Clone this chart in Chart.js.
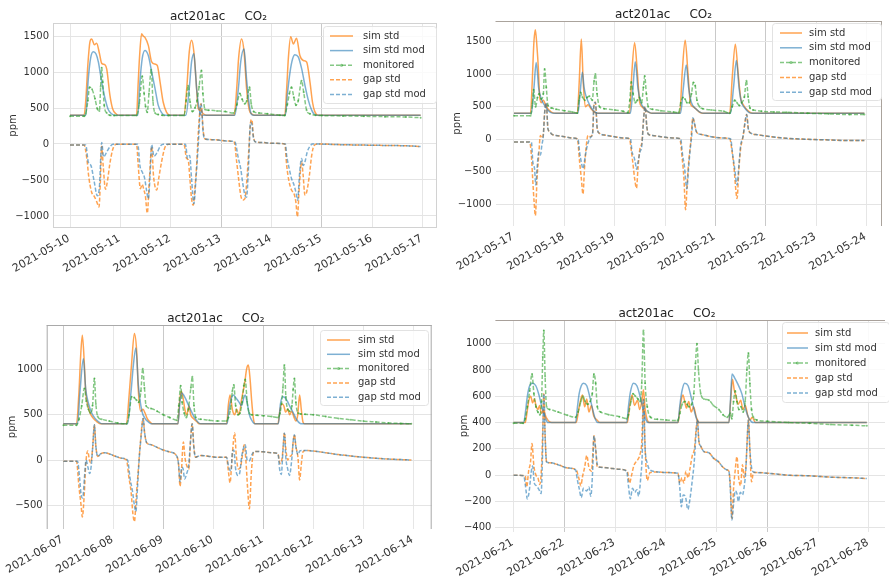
<!DOCTYPE html>
<html lang="en">
<head>
<meta charset="UTF-8" />
<title>act201ac CO2</title>
<script src="https://cdn.jsdelivr.net/npm/chart.js"></script>
<style>
    html, body { margin: 0; padding: 0; background: #fff; }
    body { width: 889px; height: 576px; position: relative; overflow: hidden; }
    .panel { position: absolute; }
    .panel canvas { display: block; }
</style>
</head>
<body>

<div class="panel" style="left:0;top:0"><canvas id="p1" width="445" height="280"></canvas></div>
<div class="panel" style="left:445px;top:0"><canvas id="p2" width="444" height="280"></canvas></div>
<div class="panel" style="left:0;top:280px"><canvas id="p3" width="445" height="296"></canvas></div>
<div class="panel" style="left:445px;top:280px"><canvas id="p4" width="444" height="296"></canvas></div>

<script>
// x = hours since 00:00 of the first date of each week, y = CO2 in ppm
const seriesNames = ['sim std', 'sim std mod', 'monitored', 'gap std', 'gap std mod'];

// --- week 2021-05-10 ---
const p1Dates = ['2021-05-10', '2021-05-11', '2021-05-12', '2021-05-13', '2021-05-14', '2021-05-15', '2021-05-16', '2021-05-17'];
const p1YTicks = [-1000, -500, 0, 500, 1000, 1500];
const p1SimStd = [[0,400],[6.7,400],[7.5,600],[8.5,1100],[9.5,1420],[10.3,1460],[11.6,1380],[12.7,1400],[14,1260],[15.1,1120],[16.7,1100],[17.5,1040],[19,680],[20.3,490],[21.9,420],[23,400],
    [31.7,400],[32.4,800],[33.1,1200],[34.1,1530],[34.9,1500],[35.7,1480],[37.3,1370],[38.9,1140],[40.5,1110],[41.6,1090],[42.9,860],[44.4,580],[46,440],[47.6,400],
    [54.3,400],[55.6,770],[56.8,1280],[57.9,1440],[59,1280],[60,900],[61.1,490],[62,470],[63.5,420],[65,400],
    [78.2,400],[79.4,770],[80.3,1190],[81.7,1460],[82.9,1280],[84.1,770],[85.4,470],[86.5,420],[88,400],
    [102.3,400],[103.2,770],[104,1190],[105.1,1490],[106.4,1390],[107.9,1470],[109.5,1230],[111.1,1160],[112.7,1140],[114.3,860],[115.5,580],[116.6,450],[118.2,400],[167,400]];
const p1SimMod = [[0,400],[7.5,400],[8.7,900],[9.8,1190],[11.1,1280],[12.4,1250],[13.5,1140],[15.1,860],[16.7,630],[18.2,480],[19.8,420],[21.4,400],
    [32.3,400],[33.3,860],[34.4,1190],[35.7,1300],[37.3,1230],[38.9,1000],[40.5,770],[42,540],[43.6,435],[45.2,400],
    [55.2,400],[56.8,770],[57.9,1140],[59,1255],[60.3,770],[61.6,470],[62.7,400],
    [78.5,400],[80.2,770],[81.3,1140],[82.9,1320],[84.1,900],[85.4,540],[86.5,410],[87.5,400],
    [102.6,400],[103.5,680],[104.8,1000],[106,1180],[107.1,1240],[108.7,1210],[110.3,1050],[111.9,815],[113.5,610],[115.1,470],[116.7,405],[118,400],[167,400]];
const p1Monitored = [[0,385],[6.7,385],[7.5,420],[8.5,600],[9.3,790],[10.5,760],[11.9,630],[13,490],[14,460],[14.6,800],[15.1,1060],[15.6,860],[16.3,540],[17.5,430],[19,400],[21,395],
    [31.7,395],[33,560],[34.4,940],[35.3,700],[36,520],[36.8,440],[37.6,700],[38.7,1030],[39.5,600],[40.5,430],[42,410],[44,400],[47,395],
    [54.3,395],[55.3,600],[56.3,810],[57.2,580],[58.3,450],[59.5,500],[60.5,600],[61.5,800],[62.6,1020],[63.3,700],[64.3,480],[66,470],[70,460],[74,450],[78,430],
    [79.5,550],[80.9,700],[82,620],[83.2,560],[84.2,600],[85.5,790],[86.3,560],[87.5,450],[90,430],[94,420],[100,400],
    [102.3,395],[103.5,550],[104.5,700],[105.5,790],[106.6,650],[107.6,540],[108.7,600],[110.3,880],[111.3,720],[112.7,470],[114.3,420],[117,400],[120,395],[130,390],[140,385],[150,380],[160,375],[167,365]];
const p1GapStd = [[0,-15],[6.7,-15],[8,-200],[9,-470],[10.3,-670],[11.6,-730],[12.7,-800],[13.8,-875],[14.5,-500],[15.1,-30],[15.8,-300],[16.9,-630],[17.8,-520],[19,-270],[20.3,-80],[22,-5],
    [31.7,-5],[32.5,-300],[33.5,-620],[34.4,-560],[35.2,-640],[35.9,-720],[36.8,-960],[37.8,-500],[38.9,-40],[39.8,-450],[41.3,-640],[42.3,-470],[43.6,-250],[45.2,-50],[47,-5],
    [54.3,-5],[55.5,-200],[56.3,-220],[57.1,-480],[57.9,-760],[58.7,-850],[59.5,-620],[60.3,-300],[61.2,200],[62.4,560],[63.5,170],[64.3,70],[68,60],[72,50],[76,40],[78.2,30],
    [79.4,-250],[80.3,-480],[81.3,-710],[82.2,-780],[83.3,-760],[84.4,-430],[85.2,-60],[86,300],[86.6,340],[87.3,120],[88.2,30],[92,20],[96,10],[102.3,0],
    [103.2,-300],[104.4,-530],[105.5,-640],[106.7,-690],[107.6,-810],[108.3,-1010],[109.2,-600],[110.3,-250],[111,-420],[111.9,-710],[112.7,-670],[114,-440],[115.1,-160],[116.3,-20],[118,0],[130,-10],[140,-15],[150,-20],[160,-25],[167,-35]];
const p1GapMod = [[0,-15],[7.5,-15],[8.7,-250],[10,-300],[11.5,-520],[13,-720],[14,-600],[15.1,20],[16,-180],[17.5,-110],[19,-40],[20.5,-5],
    [32.3,-5],[33.3,-300],[34.4,-390],[35.5,-470],[36.5,-650],[37.3,-760],[38.2,-400],[38.9,-10],[40,-170],[41.5,-120],[43,-30],[44.5,-5],
    [55,-5],[56,-200],[57,-160],[57.9,-480],[59,-830],[60,-480],[61,-50],[62.4,560],[63.5,140],[64.3,70],[68,60],[72,50],[76,40],[78.5,30],
    [80.2,-200],[81.3,-340],[82.2,-530],[83.3,-710],[84.1,-740],[84.9,-400],[86,300],[86.6,280],[87.3,100],[88.2,30],[92,20],[96,10],[102.6,0],
    [103.2,-160],[104.4,-340],[105.5,-480],[106.7,-570],[107.9,-710],[108.4,-780],[109.4,-390],[110.3,-200],[111.1,-300],[111.9,-250],[113,-110],[114.3,-30],[115.5,0],[130,-10],[140,-15],[150,-20],[160,-25],[167,-35]];

// --- week 2021-05-17 ---
const p2Dates = ['2021-05-17', '2021-05-18', '2021-05-19', '2021-05-20', '2021-05-21', '2021-05-22', '2021-05-23', '2021-05-24'];
const p2YTicks = [-1000, -500, 0, 500, 1000, 1500];
const p2SimStd = [[0,400],[7.9,400],[8.7,880],[9.5,1490],[10.2,1680],[11,1400],[11.6,1100],[12.2,680],[13,560],[14,600],[15.4,500],[17,440],[18.6,405],[20,400],
    [30.2,400],[31.1,880],[32.1,1540],[33,880],[34,500],[35.3,530],[36.9,460],[38.5,415],[40,400],
    [55.1,400],[56.2,1030],[57.5,1480],[58.8,1030],[59.9,570],[61,500],[62.3,460],[63.9,420],[65.5,400],
    [79,400],[80.2,1030],[81.6,1520],[82.9,1030],[84.1,550],[85.3,500],[86.9,460],[88.5,415],[90,400],
    [102.8,400],[104.1,980],[105.5,1460],[106.8,1030],[108.1,620],[109.3,530],[110.8,460],[112.4,415],[113.9,400],[167,400]];
const p2SimMod = [[0,400],[8.3,400],[9.5,780],[10.6,1180],[11.8,780],[13,620],[14.6,520],[16.2,445],[17.8,405],[19,400],
    [30.5,400],[31.5,700],[32.6,1030],[33.4,800],[34,700],[35.3,580],[36.9,480],[38.5,420],[40,400],
    [55.5,400],[56.7,780],[57.8,1190],[59.1,780],[60.4,570],[62.3,470],[64.7,410],[66,400],
    [79.4,400],[80.7,780],[82.1,1140],[83.3,780],[84.5,570],[86.9,460],[89.3,405],[90.5,400],
    [103.2,400],[104.6,780],[106,1210],[107.3,780],[108.4,570],[110,480],[111.9,415],[113.5,400],[167,400]];
const p2Monitored = [[0,360],[7.9,360],[8.8,550],[9.4,760],[10.3,500],[11.2,640],[12,700],[13,620],[14,700],[14.6,1080],[15.4,800],[16.2,520],[18,480],[20,460],[24,440],[28,420],[30.2,405],
    [31,600],[31.8,720],[32.6,650],[33.8,600],[34.8,640],[36,660],[37.3,600],[38.2,900],[38.8,1000],[39.6,700],[40.8,500],[43,470],[48,450],[52,430],[54.3,410],
    [55.2,600],[55.9,880],[56.8,700],[57.8,560],[58.8,600],[59.8,640],[60.8,560],[61.7,800],[62.3,970],[63.1,700],[64,500],[66,460],[70,440],[76,420],[78.5,410],
    [79.5,560],[80.5,640],[81.5,620],[82.5,560],[83.5,560],[84.6,700],[85.5,870],[86.4,820],[87.2,600],[88.5,500],[90,470],[94,450],[100,430],[102.8,400],
    [104,500],[105.2,600],[106.3,560],[107.4,520],[108.5,560],[109.8,650],[110.8,900],[111.6,650],[112.5,480],[114,450],[118,430],[124,420],[130,415],[140,400],[150,390],[160,380],[167,380]];
const p2GapStd = [[0,-40],[7.5,-40],[8.3,-250],[9,-650],[9.6,-960],[10.2,-1170],[11,-600],[11.8,-250],[12.6,60],[13.3,20],[14,80],[14.6,400],[15.4,560],[16.2,160],[17,120],[18,80],[20,60],[24,40],[28,20],[30.2,5],
    [31.3,-350],[32.1,-600],[32.9,-840],[33.6,-450],[34.5,-90],[35.3,60],[36.5,40],[37.5,100],[38.1,520],[38.8,570],[39.7,160],[40.8,90],[44,60],[48,40],[52,20],[55,10],
    [56,-190],[56.8,-400],[57.5,-600],[58.4,-750],[59.1,-450],[60,-150],[61,-40],[61.8,320],[62.5,500],[63.3,200],[64,80],[66,60],[70,40],[76,20],[79,10],
    [80.2,-300],[81,-600],[81.8,-1080],[82.6,-650],[83.4,-300],[84.2,-60],[85.3,330],[86,250],[86.9,120],[88.5,80],[90,70],[94,40],[100,20],[102.8,10],
    [104,-200],[104.9,-450],[105.8,-800],[106.3,-910],[107.2,-450],[108,-150],[109.2,50],[110.3,300],[110.9,380],[111.7,160],[113.1,90],[116,70],[120,50],[125,30],[130,15],[140,0],[150,-10],[160,-20],[167,-20]];
const p2GapMod = [[0,-40],[8.3,-40],[9,-350],[9.8,-450],[10.4,-700],[11,-450],[11.8,-200],[12.6,-240],[13.3,-90],[14,60],[14.6,400],[15.4,560],[16.2,160],[17,120],[18,80],[20,60],[24,40],[28,20],[30.5,5],
    [31.3,-200],[32.1,-350],[32.9,-450],[34,-250],[35,-90],[36.5,30],[37.5,100],[38.1,520],[38.8,570],[39.7,160],[40.8,90],[44,60],[48,40],[52,20],[55.5,10],
    [56.3,-200],[57,-250],[57.8,-350],[58.4,-460],[59.1,-350],[60,-200],[61,-80],[61.8,320],[62.5,500],[63.3,200],[64,80],[66,60],[70,40],[76,20],[79.4,10],
    [80.4,-250],[81.2,-400],[82.4,-760],[83.2,-450],[84,-150],[84.7,50],[85.3,330],[86,250],[86.9,120],[88.5,80],[90,70],[94,40],[100,20],[103.2,10],
    [104.3,-250],[105.2,-450],[106.3,-700],[107.2,-400],[108,-100],[109.2,50],[110.3,300],[110.9,380],[111.7,160],[113.1,90],[116,70],[120,50],[125,30],[130,15],[140,0],[150,-10],[160,-20],[167,-20]];

// --- week 2021-06-07 ---
const p3Dates = ['2021-06-07', '2021-06-08', '2021-06-09', '2021-06-10', '2021-06-11', '2021-06-12', '2021-06-13', '2021-06-14'];
const p3YTicks = [-500, 0, 500, 1000];
const p3SimStd = [[0,400],[6.3,400],[7.5,760],[8.3,1150],[9.1,1380],[10.1,1050],[10.7,760],[11.7,610],[12.8,520],[14.4,460],[16,425],[17.6,400],
    [30.3,400],[31.5,700],[32.7,1050],[34.1,1400],[35.2,1200],[36,760],[37.1,540],[38.2,560],[39.2,520],[40.2,460],[41.6,420],[42.7,400],
    [55,400],[55.8,650],[56.6,760],[57.5,680],[58.4,550],[59.2,500],[60.3,600],[61.1,500],[62.4,460],[64,425],[65.2,400],
    [78.4,400],[79.2,610],[80,720],[81.2,550],[82.2,500],[83.2,560],[84.3,500],[85.6,680],[86.9,830],[88,1010],[88.8,1050],[89.6,900],[90.4,650],[91.2,460],[92,400],
    [103,400],[104,560],[105,620],[105.8,600],[106.7,530],[107.7,560],[108.6,500],[109.6,540],[110.6,480],[111.6,430],[112.5,500],[113.4,720],[114.2,560],[115,420],[115.8,400],[167,400]];
const p3SimMod = [[0,400],[6.8,400],[8,760],[9.6,1120],[10.7,790],[12,630],[13.6,520],[15.2,460],[16.8,425],[18.4,400],
    [30.8,400],[32.5,760],[33.6,1050],[34.8,1240],[36,830],[37.6,550],[39.2,460],[40.8,420],[42,400],
    [55,400],[56,650],[56.8,740],[58.4,690],[60,610],[61.6,530],[63.2,460],[64.8,415],[66,400],
    [78.6,400],[79.5,560],[80.6,680],[81.6,720],[83,680],[84.3,640],[85.5,600],[86.5,680],[87.3,720],[88.3,620],[89.3,500],[90.4,440],[91.5,405],[92.5,400],
    [103.2,400],[104.2,620],[105.2,700],[106.4,690],[107.5,650],[108.8,590],[110.4,520],[112,445],[113.6,405],[114.5,400],[167,400]];
const p3Monitored = [[0,385],[6.3,385],[7.5,450],[8.8,600],[10.1,790],[11,650],[12,560],[13,520],[14,600],[14.9,900],[15.6,620],[16.5,480],[18.4,450],[22,430],[26,410],[30.3,400],
    [31.5,500],[32.8,700],[34,690],[35.2,660],[36.2,640],[37.2,760],[38.1,1010],[38.9,800],[39.7,600],[42,570],[45,540],[48,500],[51,470],[54.5,440],
    [55.4,600],[56.3,820],[57,640],[58,520],[59,470],[60,560],[61.2,800],[61.9,920],[62.7,600],[63.6,470],[66,450],[70,440],[74,430],[78.3,430],
    [79.2,470],[80.2,560],[81.1,760],[81.8,830],[82.7,600],[83.8,500],[84.8,520],[85.8,640],[86.6,820],[87.3,890],[88.2,650],[89.2,520],[90.5,500],[93,495],[96,490],[100,480],[103,470],
    [104,520],[104.7,620],[105.4,800],[106.1,1050],[106.8,700],[107.7,560],[108.7,540],[109.7,600],[110.3,780],[110.9,900],[111.6,640],[112.6,520],[114,510],[116,505],[120,500],[126,480],[132,460],[138,445],[144,430],[150,420],[156,410],[162,405],[167,400]];
const p3GapStd = [[0,-15],[6.3,-15],[7.5,-300],[8.5,-500],[9.1,-630],[10.1,-350],[10.7,-60],[11.7,100],[12.5,0],[13.2,-30],[14.1,150],[14.9,390],[15.6,150],[16.5,40],[18,70],[20,80],[24,50],[28,20],[30.3,0],
    [31.5,-200],[32.5,-350],[33.4,-600],[34.1,-680],[35,-400],[36,-100],[37,200],[38.3,460],[39,300],[40,190],[42,170],[45,140],[48,110],[51,90],[54.5,40],
    [55.3,-50],[56,-290],[56.6,-150],[57.6,200],[58.4,20],[59.2,-60],[60.2,-100],[61,200],[61.8,400],[62.6,150],[63.4,30],[64.5,40],[66,50],[70,40],[74,30],[78.3,30],
    [79.2,-120],[80,-250],[80.9,0],[81.6,200],[82.2,300],[83,50],[84,-100],[85,-80],[86,60],[86.8,170],[87.6,0],[88.4,-300],[89.3,-540],[90.2,-150],[91.3,90],[93,95],[96,90],[100,80],[103,70],
    [104,-40],[105,20],[105.5,150],[106.1,300],[106.8,120],[107.7,0],[108.7,40],[109.7,60],[110.3,200],[110.9,280],[111.6,150],[112.6,30],[113.4,-220],[114.2,-50],[115,90],[116,105],[120,100],[126,80],[132,60],[138,45],[144,30],[150,20],[156,10],[162,5],[167,0]];
const p3GapMod = [[0,-15],[6.8,-15],[7.8,-200],[8.5,-380],[9.3,-420],[10.1,-200],[10.9,0],[11.8,-80],[12.6,-150],[13.4,-60],[14.1,150],[14.9,390],[15.6,150],[16.5,40],[18,70],[20,80],[24,50],[28,20],[30.8,0],
    [32,-200],[33.2,-350],[34.1,-500],[34.8,-570],[35.6,-300],[36.5,50],[37.3,250],[38.3,460],[39,300],[40,190],[42,170],[45,140],[48,110],[51,90],[54.5,40],
    [55.3,-50],[56,-240],[56.8,-80],[57.5,-100],[58.2,-210],[59.2,-150],[60.2,-50],[61,200],[61.8,400],[62.6,150],[63.4,30],[64.5,40],[66,50],[70,40],[74,30],[78.3,30],
    [79.5,-90],[80.5,-120],[81.1,80],[81.8,110],[82.7,-100],[83.8,-170],[84.6,-150],[85.6,40],[86.6,140],[87.3,170],[88.2,0],[89.2,-10],[90.5,60],[91.5,90],[93,95],[96,90],[100,80],[103,70],
    [103.8,-100],[104.6,-160],[105.4,100],[106.1,300],[106.8,20],[107.7,-100],[108.5,-170],[109.6,0],[110.3,200],[110.9,280],[111.6,150],[112.6,60],[113.5,100],[114.5,105],[116,105],[120,100],[126,80],[132,60],[138,45],[144,30],[150,20],[156,10],[162,5],[167,0]];

// --- week 2021-06-21 ---
const p4Dates = ['2021-06-21', '2021-06-22', '2021-06-23', '2021-06-24', '2021-06-25', '2021-06-26', '2021-06-27', '2021-06-28'];
const p4YTicks = [-400, -200, 0, 200, 400, 600, 800, 1000];
const p4SimStd = [[0,400],[5.5,400],[6.3,470],[7.1,560],[8.1,600],[9,550],[9.8,580],[10.7,520],[11.5,500],[12.3,530],[13.1,470],[14,490],[15.4,440],[17,405],[18,400],
    [29.6,400],[30.8,500],[31.8,580],[32.6,610],[33.6,520],[34.6,580],[35.6,480],[36.8,530],[37.9,450],[39.4,420],[40.8,400],
    [53.8,400],[54.8,520],[56,610],[57.2,530],[58.6,570],[59.6,500],[60.6,560],[61.4,650],[62.2,500],[63.2,420],[64.3,400],
    [77.8,400],[78.6,500],[79.4,580],[80.1,610],[80.9,560],[81.7,510],[82.8,560],[84,480],[85.1,520],[86.4,440],[87.9,400],
    [101.8,400],[102.6,560],[103.5,730],[104.3,650],[105.1,600],[106.2,540],[107.4,570],[108.4,500],[109.6,530],[110.6,460],[111.8,420],[112.8,440],[114.4,400],[167,400]];
const p4SimMod = [[0,400],[4.8,400],[5.6,480],[6.5,600],[7.6,680],[9,700],[10.5,680],[12,610],[13.5,510],[14.9,440],[16.2,400],
    [29.3,400],[30.2,520],[31,620],[32,680],[33,700],[34.6,680],[36.1,590],[37.7,480],[38.8,420],[39.9,400],
    [53.5,400],[54.3,520],[55.2,630],[56.7,700],[58.3,680],[59.8,600],[61.4,495],[62.6,420],[63.7,400],
    [77.7,400],[78.6,530],[79.6,640],[80.9,700],[82.5,680],[84,590],[85.6,480],[86.7,420],[87.9,400],
    [101.8,400],[102.5,560],[103.3,770],[104.5,740],[105.8,700],[107.9,620],[109.4,520],[111,440],[112.5,405],[113.5,400],[167,400]];
const p4Monitored = [[0,395],[4.5,395],[5.5,430],[6.5,520],[7.6,640],[8.7,770],[9.6,620],[10.6,520],[11.5,480],[12.4,460],[13.2,560],[13.8,900],[14.3,1100],[14.9,750],[15.6,520],[17,500],[21,480],[25.5,455],[29.3,440],
    [30.5,480],[31.8,560],[32.8,600],[33.8,560],[35,540],[36.2,560],[37.2,620],[38,770],[38.8,700],[39.6,520],[41.2,480],[45,460],[50,445],[53.5,430],
    [54.3,460],[55.5,560],[56.5,620],[57.6,600],[58.8,580],[59.8,560],[60.6,700],[61.4,1100],[62.2,700],[63.2,520],[64.8,440],[68,425],[72,420],[77.5,415],
    [78.6,470],[79.7,540],[80.9,560],[82,540],[83,520],[84.2,540],[85.2,620],[86,850],[86.7,1000],[87.4,800],[88.5,620],[90,580],[92.4,570],[94.5,530],[97,500],[99,460],[101,440],
    [102.5,470],[103.2,430],[104,560],[104.8,640],[105.6,560],[106.5,500],[107.5,520],[108.5,480],[109.5,560],[110.3,800],[111,930],[111.7,700],[112.5,500],[113.4,440],[115,420],[120,410],[130,400],[140,395],[150,385],[160,380],[167,375]];
const p4GapStd = [[0,0],[5.5,-5],[6.2,-90],[7.1,30],[8,100],[8.7,240],[9.6,70],[10.6,0],[11.5,-20],[12.4,-70],[13.2,60],[13.8,350],[14.3,620],[14.9,300],[15.6,100],[17,95],[21,80],[25.5,55],[29.6,40],
    [30.8,-20],[31.8,-80],[32.6,-10],[33.6,60],[34.6,150],[35.6,60],[36.8,30],[37.4,150],[38,300],[38.8,200],[39.6,60],[41.2,60],[45,55],[50,45],[53.8,30],
    [54.8,-60],[55.8,0],[56.8,70],[57.8,100],[58.8,120],[59.8,160],[60.6,250],[61.4,580],[62.2,200],[63.2,-40],[64.5,20],[68,25],[72,20],[77.7,15],
    [78.6,-60],[79.6,-20],[80.5,-60],[81.5,30],[82.5,-20],[83.5,60],[84.5,150],[85.5,200],[86.3,350],[86.9,420],[87.6,260],[88.5,220],[90,180],[92.4,170],[94.5,130],[97,100],[99,60],[101,40],
    [101.8,30],[102.5,-80],[103.2,-330],[104,-100],[104.8,40],[105.6,140],[106.4,-20],[107.3,-80],[108.2,80],[109,-20],[109.8,60],[110.4,250],[111,420],[111.7,200],[112.5,-50],[113.4,20],[115,20],[120,15],[130,0],[140,-5],[150,-15],[160,-20],[167,-25]];
const p4GapMod = [[0,0],[4.8,-5],[5.6,-80],[6.5,-180],[7.4,-120],[8.3,20],[9,70],[9.8,-60],[10.8,-80],[12,-110],[13,-140],[13.6,100],[14.3,620],[14.9,300],[15.6,100],[17,95],[21,80],[25.5,55],[29.3,40],
    [30.2,-40],[31,-100],[32,-170],[33,-100],[34.6,-120],[35.6,-90],[36.5,-160],[37.4,40],[38,300],[38.8,200],[39.6,80],[41.2,60],[45,55],[50,45],[53.5,30],
    [54.3,-80],[55.2,-180],[56.2,-100],[57.3,-130],[58.3,-110],[59.1,-160],[60.2,0],[60.8,150],[61.4,580],[62.2,200],[63.2,90],[64.5,40],[68,25],[72,20],[77.7,15],
    [78.6,-100],[79.3,-240],[80.2,-150],[81.2,-160],[82.4,-260],[83.4,-180],[84.4,-50],[85.4,100],[86.2,300],[86.9,420],[87.6,260],[88.5,220],[90,180],[92.4,170],[94.5,130],[97,100],[99,60],[101,40],
    [101.8,30],[102.5,-120],[103.2,-340],[104,-220],[104.8,-120],[105.6,-140],[106.3,-200],[107.2,-130],[108.2,-150],[109,-90],[109.8,40],[110.4,250],[111,420],[111.7,200],[112.5,60],[113.4,25],[115,20],[120,15],[130,0],[140,-5],[150,-15],[160,-20],[167,-25]];

// line styles, in legend order
const ORANGE = 'rgba(255,127,14,0.72)';
const BLUE = 'rgba(31,119,180,0.58)';
const GREEN = 'rgba(44,160,44,0.58)';
const seriesStyles = [
    { color: ORANGE, dash: [], order: 5 },
    { color: BLUE, dash: [], order: 4 },
    { color: GREEN, dash: [4, 2], order: 3, dot: true },
    { color: ORANGE, dash: [4, 2], order: 2 },
    { color: BLUE, dash: [4, 2], order: 1 }
];

// canvas-space geometry of each panel; darkDays = day gridlines that print heavier
const panels = [
    { id: 'p1', dates: p1Dates, yTicks: p1YTicks, series: [p1SimStd, p1SimMod, p1Monitored, p1GapStd, p1GapMod],
      x: [-8.1, 174.8], y: [-1167, 1681], left: 53, top: 11, right: 8, bottom: 52, ppm: 7.5, darkDays: [3, 5],
      frame: ['top', 'right', 'bottom', 'left'], frameColor: '#d2d2d2',
      legend: { box: [323, 26, 113, 77], x: 330, y: 36, row: 14.6, len: 23, gap: 10 } },
    { id: 'p2', dates: p2Dates, yTicks: p2YTicks, series: [p2SimStd, p2SimMod, p2Monitored, p2GapStd, p2GapMod],
      x: [-8.8, 175.4], y: [-1330, 1815], left: 50.5, top: 9, right: 7, bottom: 54, ppm: 6.5, darkDays: [4, 5],
      frame: ['top', 'right'], frameColor: '#aaa39c',
      legend: { box: [327, 23, 109, 77], x: 335, y: 33, row: 14.8, len: 22, gap: 7 } },
    { id: 'p3', dates: p3Dates, yTicks: p3YTicks, series: [p3SimStd, p3SimMod, p3Monitored, p3GapStd, p3GapMod],
      x: [-8.0, 176.8], y: [-763, 1493], left: 46.7, top: 33, right: 13.3, bottom: 47, ppm: 6.5, darkDays: [0, 2, 4],
      frame: ['top', 'right', 'left'], frameColor: '#a9a9a9',
      legend: { box: [320, 50, 108, 75], x: 327, y: 60, row: 14.3, len: 23, gap: 8 } },
    { id: 'p4', dates: p4Dates, yTicks: p4YTicks, series: [p4SimStd, p4SimMod, p4Monitored, p4GapStd, p4GapMod],
      x: [-8.6, 175.6], y: [-432, 1180], left: 50.4, top: 28, right: 0, bottom: 44, ppm: 13, darkDays: [1, 5],
      frame: ['top'], frameColor: '#a8a09a',
      legend: { box: [337, 42, 107, 80], x: 342, y: 53, row: 15, len: 21, gap: 7 } }
];

Chart.defaults.font.family = "'DejaVu Sans', sans-serif";
Chart.defaults.font.size = 10;
Chart.defaults.color = '#333';

// partial axes frame drawn on the plot area edges
const framePlugin = {
    id: 'frame',
    afterDatasetsDraw(chart, args, opts) {
        const { ctx, chartArea: a } = chart;
        ctx.save();
        ctx.strokeStyle = opts.color;
        ctx.lineWidth = 1;
        ctx.beginPath();
        if (opts.sides.includes('top')) { ctx.moveTo(a.left, a.top + 0.5); ctx.lineTo(a.right, a.top + 0.5); }
        if (opts.sides.includes('bottom')) { ctx.moveTo(a.left, a.bottom - 0.5); ctx.lineTo(a.right, a.bottom - 0.5); }
        if (opts.sides.includes('left')) { ctx.moveTo(a.left + 0.5, a.top); ctx.lineTo(a.left + 0.5, a.bottom); }
        if (opts.sides.includes('right')) { ctx.moveTo(a.right - 0.5, a.top); ctx.lineTo(a.right - 0.5, a.bottom); }
        ctx.stroke();
        ctx.restore();
    }
};

// legend box placed in the upper right of the plot
const insetLegend = {
    id: 'insetLegend',
    afterDraw(chart, args, opts) {
        const ctx = chart.ctx;
        const [bx, by, bw, bh] = opts.box;
        ctx.save();
        ctx.fillStyle = 'rgba(255,255,255,0.8)';
        ctx.strokeStyle = '#e2e2e2';
        ctx.lineWidth = 1;
        ctx.beginPath();
        ctx.roundRect(bx + 0.5, by + 0.5, bw, bh, 3);
        ctx.fill();
        ctx.stroke();
        chart.data.datasets.forEach((ds, i) => {
            const y = opts.y + i * opts.row;
            ctx.strokeStyle = ds.borderColor;
            ctx.lineWidth = ds.borderWidth;
            ctx.setLineDash(ds.borderDash);
            ctx.beginPath();
            ctx.moveTo(opts.x, y);
            ctx.lineTo(opts.x + opts.len, y);
            ctx.stroke();
            ctx.setLineDash([]);
            if (ds.pointRadius > 0) {
                ctx.fillStyle = ds.borderColor;
                ctx.beginPath();
                ctx.arc(opts.x + opts.len / 2, y, 1.5, 0, Math.PI * 2);
                ctx.fill();
            }
            ctx.fillStyle = '#333';
            ctx.font = "10px 'DejaVu Sans'";
            ctx.textBaseline = 'middle';
            ctx.textAlign = 'left';
            ctx.fillText(ds.label, opts.x + opts.len + opts.gap, y);
        });
        ctx.restore();
    }
};

const minusSign = v => (v < 0 ? '\u2212' + Math.abs(v) : String(v));

panels.forEach(p => {
    const datasets = p.series.map((pts, i) => {
        const st = seriesStyles[i];
        return {
            label: seriesNames[i],
            data: pts.map(([x, y]) => ({ x, y })),
            borderColor: st.color,
            backgroundColor: st.color,
            borderWidth: 1.5,
            borderDash: st.dash,
            pointRadius: st.dot ? 1 : 0,
            pointBorderWidth: 0,
            pointBackgroundColor: st.color,
            cubicInterpolationMode: 'monotone',
            order: st.order
        };
    });

    new Chart(document.getElementById(p.id), {
        type: 'line',
        data: { datasets },
        plugins: [framePlugin, insetLegend],
        options: {
            responsive: false,
            animation: false,
            events: [],
            layout: { padding: { top: p.top, right: p.right, left: 0, bottom: 0 } },
            plugins: {
                legend: { display: false },
                tooltip: { enabled: false },
                title: {
                    display: true,
                    text: 'act201ac     CO\u2082',
                    color: '#222',
                    font: { size: 12, weight: 'normal', lineHeight: 1 },
                    padding: { top: 0, bottom: 0 }
                },
                frame: { sides: p.frame, color: p.frameColor },
                insetLegend: p.legend
            },
            scales: {
                x: {
                    type: 'linear',
                    min: p.x[0],
                    max: p.x[1],
                    afterBuildTicks: s => { s.ticks = p.dates.map((d, i) => ({ value: i * 24 })); },
                    afterFit: s => { s.height = p.bottom; },
                    grid: {
                        drawTicks: false,
                        color: ctx => (p.darkDays.includes(Math.round(ctx.tick.value / 24)) ? '#c9c9c9' : '#e6e6e6')
                    },
                    border: { display: false },
                    ticks: {
                        autoSkip: false,
                        minRotation: 30,
                        maxRotation: 30,
                        padding: 4,
                        labelOffset: -1,
                        color: '#333',
                        font: { size: 11 },
                        callback: v => p.dates[Math.round(v / 24)]
                    }
                },
                y: {
                    min: p.y[0],
                    max: p.y[1],
                    afterBuildTicks: s => { s.ticks = p.yTicks.map(v => ({ value: v })); },
                    afterFit: s => { s.width = p.left; },
                    grid: { color: '#e4e4e4', drawTicks: false },
                    border: { display: false },
                    ticks: { padding: 4, color: '#333', callback: minusSign },
                    title: { display: true, text: 'ppm', color: '#333', font: { size: 10 }, padding: { top: p.ppm, bottom: 0 } }
                }
            }
        }
    });
});
</script>
</body>
</html>
